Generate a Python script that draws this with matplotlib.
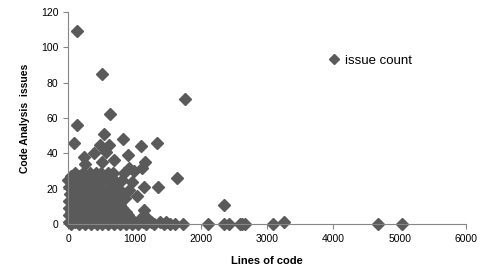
import matplotlib
matplotlib.use('Agg')
import matplotlib.pyplot as plt

# isolated points (lines of code, issue count)
outlier_loc = [136, 513, 1765, 633, 136, 543, 90, 829, 1342, 1101, 482, 618,
               392, 573, 241, 905, 694, 256, 513, 1161, 920, 1116, 106, 845,
               995, 814, 965, 1146, 1357, 920, 1040, 860, 1146, 1644, 2353]
outlier_issues = [109, 85, 71, 62, 56, 51, 46, 48, 46, 44, 45, 45,
                  40, 41, 38, 39, 36, 34, 35, 35, 32, 32, 29, 29,
                  30, 25, 24, 21, 21, 19, 16, 15, 8, 26, 11]

# long tail along the bottom
tail_loc = [1614, 1734, 2111, 2353, 2428, 2594, 2624, 2670, 3092, 3258, 4676, 5037]
tail_issues = [0, 0, 0, 0, 0, 0, 0, 0, 0, 1, 0, 0]

# dense cluster of small files, one row per issue count
cluster_issues = [29, 27, 25, 23, 21, 19, 17, 15, 13, 11, 9, 7, 5, 3, 1, 0]
cluster_loc = [
    [230, 330, 420, 500, 600, 680],
    [40, 160, 280, 370, 460, 550, 640],
    [0, 100, 210, 320, 410, 520, 590, 700],
    [60, 160, 260, 360, 450, 640, 720],
    [20, 120, 220, 310, 400, 480, 660],
    [80, 180, 270, 350, 440, 520, 600, 690, 780],
    [30, 130, 230, 320, 410, 490, 570, 650, 740],
    [70, 170, 260, 350, 440, 530, 610, 700, 800],
    [20, 120, 210, 300, 390, 470, 560, 640, 730],
    [60, 160, 250, 340, 430, 520, 600, 690, 780],
    [10, 110, 200, 290, 380, 460, 550, 630, 720, 820],
    [50, 150, 240, 330, 420, 510, 590, 680, 770, 870],
    [20, 100, 190, 280, 370, 450, 540, 630, 710, 800, 900],
    [60, 150, 240, 330, 420, 500, 590, 670, 760, 850, 950, 1080, 1210],
    [10, 110, 200, 290, 380, 470, 550, 640, 730, 820, 910, 1000, 1130, 1250, 1390, 1480],
    [50, 160, 250, 340, 430, 520, 600, 690, 780, 870, 960, 1060, 1170, 1300, 1440, 1540],
]

xs = []
ys = []
for y, row in zip(cluster_issues, cluster_loc):
    for x in row:
        xs.append(x)
        ys.append(y)
xs += outlier_loc + tail_loc
ys += outlier_issues + tail_issues

plt.rcParams['font.family'] = ['Liberation Sans', 'DejaVu Sans']

fig = plt.figure(figsize=(4.91, 2.78), dpi=100)
ax = fig.add_axes([0.1385, 0.194, 0.8105, 0.763])

grey = '#5a5a5a'
ax.plot(xs, ys, linestyle='none', marker='D', markersize=6,
        color=grey, markeredgecolor=grey, label='issue count', clip_on=False)

ax.set_xlim(0, 6000)
ax.set_ylim(0, 120)
ax.set_xticks(range(0, 6001, 1000))
ax.set_yticks(range(0, 121, 20))

for s in ['top', 'right']:
    ax.spines[s].set_visible(False)
for s in ['left', 'bottom']:
    ax.spines[s].set_color('#868686')
ax.tick_params(colors='#868686', labelcolor='black', labelsize=7.5, length=3.5, width=0.8)

ax.set_xlabel('Lines of code', fontsize=8, fontweight='bold', labelpad=9)
ax.set_ylabel('Code Analysis  issues', fontsize=7.5, fontweight='bold', labelpad=8)

ax.legend(loc='center left', bbox_to_anchor=(0.622, 0.77), frameon=False,
          handlelength=1.0, handletextpad=0.3, markerscale=0.8, fontsize=9.5)

fig.savefig('out.png', dpi=100)
